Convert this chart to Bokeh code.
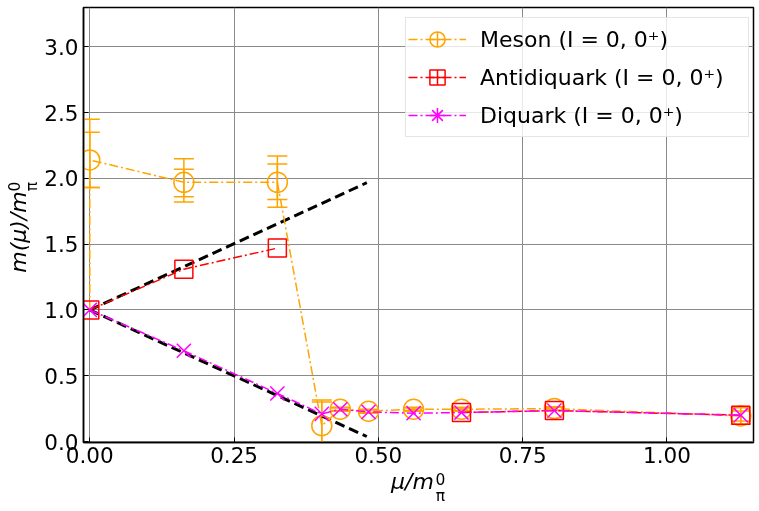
import math
from bokeh.plotting import figure
from bokeh.models import (ColumnDataSource, Whisker, TeeHead, Legend, LegendItem,
                          LinearAxis, FixedTicker, PrintfTickFormatter, Range1d)
from bokeh.embed import file_html
from bokeh.resources import INLINE

nan = float("nan")

# ---- data ----
meson_x = [0.0, 0.0, 0.163, 0.325, 0.402, 0.434, 0.483, 0.561, 0.644, 0.805, 1.128]
meson_y = [1.0, 2.14, 1.97, 1.97, 0.12, 0.245, 0.23, 0.245, 0.245, 0.25, 0.194]
# error bars for points meson_x[1:]
meson_in_lo = [1.93, 1.86, 1.84, -0.06, 0.235, 0.22, 0.235, 0.235, 0.24, 0.156]
meson_in_hi = [2.35, 2.07, 2.11, 0.30, 0.255, 0.24, 0.255, 0.255, 0.26, 0.232]
meson_out_lo = [1.93, 1.82, 1.78, -0.08, 0.23, 0.215, 0.23, 0.23, 0.235, 0.131]
meson_out_hi = [2.45, 2.15, 2.17, 0.315, 0.26, 0.245, 0.26, 0.26, 0.265, 0.257]

anti_x = [0.0, 0.163, 0.325, nan, 0.644, 0.805, 1.128]
anti_y = [1.0, 1.31, 1.47, nan, 0.22, 0.235, 0.20]

di_x = [0.0, 0.163, 0.325, 0.402, 0.434, 0.483, 0.561, 0.644, 0.805, 1.128]
di_y = [1.0, 0.69, 0.365, 0.21, 0.245, 0.225, 0.215, 0.22, 0.235, 0.20]

guide_x = [0.0, 0.48]
guide_up_y = [1.0, 1.967]
guide_down_y = [1.0, 0.038]

x_ticks = [0.0, 0.25, 0.5, 0.75, 1.0]
y_ticks = [0.0, 0.5, 1.0, 1.5, 2.0, 2.5, 3.0]

labels_legend = ["Meson (I = 0, 0\u207a)", "Antidiquark (I = 0, 0\u207a)", "Diquark (I = 0, 0\u207a)"]

ORANGE = "#FFA500"
RED = "#FF0000"
MAGENTA = "#FF00FF"
FONT = "DejaVu Sans"
DD = "9 3 2 3"
FL, FR, FT, FB = 83, 753, 7, 442   # frame edges in page px
X0, X1 = -0.0109, 1.150
Y0, Y1 = -0.0076, 3.299
MBL, MBB, MBR = 140, 120, 6         # generous side panels; canvas pinned so the frame sits at FL/FT

p = figure(width=MBL + (FR - FL) + MBR, height=FT + (FB - FT) + MBB,
           output_backend="svg", toolbar_location=None,
           x_range=Range1d(X0, X1), y_range=Range1d(Y0, Y1),
           min_border_left=MBL, min_border_right=MBR, min_border_top=FT,
           min_border_bottom=MBB)
p.styles = {"position": "fixed", "left": f"{FL - MBL}px", "top": "0px"}
p.background_fill_color = "white"
p.border_fill_color = "white"
p.outline_line_color = "black"
p.outline_line_width = 1.5

for ax in (p.xaxis[0], p.yaxis[0]):
    ax.axis_line_color = "black"
    ax.axis_line_width = 1.5
    ax.major_tick_in = 5
    ax.major_tick_out = 0
    ax.minor_tick_in = 0
    ax.minor_tick_out = 0
    ax.major_tick_line_color = "black"
    ax.major_label_text_font = FONT
    ax.major_label_text_font_size = "21.5px"
    ax.major_label_text_color = "black"
p.xaxis[0].ticker = FixedTicker(ticks=x_ticks)
p.xaxis[0].formatter = PrintfTickFormatter(format="%.2f")
p.xaxis[0].major_label_standoff = 4
p.yaxis[0].ticker = FixedTicker(ticks=y_ticks)
p.yaxis[0].formatter = PrintfTickFormatter(format="%.1f")
p.yaxis[0].major_label_standoff = 5

p.xgrid.grid_line_color = "#8a8a8a"
p.ygrid.grid_line_color = "#8a8a8a"

# guide lines
p.line(guide_x, guide_up_y, line_color="black", line_width=3, line_dash="10 5")
p.line(guide_x, guide_down_y, line_color="black", line_width=3, line_dash="10 5")

# meson
m_line = p.line(meson_x, meson_y, line_color=ORANGE, line_width=1.5, line_dash=DD)
msrc = ColumnDataSource(dict(x=meson_x[1:], y=meson_y[1:],
                             ilo=meson_in_lo, ihi=meson_in_hi,
                             olo=meson_out_lo, ohi=meson_out_hi))
for lo, hi in (("ilo", "ihi"), ("olo", "ohi")):
    p.add_layout(Whisker(source=msrc, base="x", lower=lo, upper=hi, dimension="height",
                         line_color=ORANGE, line_width=1.5,
                         upper_head=TeeHead(size=20, line_color=ORANGE, line_width=1.5),
                         lower_head=TeeHead(size=20, line_color=ORANGE, line_width=1.5)))
p.scatter("x", "y", source=msrc, marker="circle", size=20, fill_alpha=0,
          line_color=ORANGE, line_width=1.5)

# antidiquark
a_line = p.line(anti_x, anti_y, line_color=RED, line_width=1.5, line_dash=DD)
p.scatter(anti_x, anti_y, marker="square", size=18, fill_alpha=0,
          line_color=RED, line_width=1.5)

# diquark
d_line = p.line(di_x, di_y, line_color=MAGENTA, line_width=1.5, line_dash=DD)
p.scatter(di_x, di_y, marker="x", size=20, line_color=MAGENTA, line_width=1.5)

# legend-only marker glyphs
def leg_marker(marker, color):
    return p.scatter([nan], [nan], marker=marker, size=18, fill_alpha=0,
                     line_color=color, line_width=1.5)

m_leg = leg_marker("circle_cross", ORANGE)
a_leg = leg_marker("square_cross", RED)
d_leg = leg_marker("asterisk", MAGENTA)

# legend box: left edge at page x 405, bottom edge at page y 137
legend = Legend(items=[
    LegendItem(label=labels_legend[0], renderers=[m_line, m_leg]),
    LegendItem(label=labels_legend[1], renderers=[a_line, a_leg]),
    LegendItem(label=labels_legend[2], renderers=[d_line, d_leg]),
], location=(405 - FL, FB - 137))
legend.label_text_font = FONT
legend.label_text_font_size = "22px"
legend.label_text_color = "black"
legend.glyph_width = 58
legend.glyph_height = 38
legend.label_standoff = 14
legend.label_width = 266
legend.spacing = 0
legend.padding = 2
legend.margin = 0
legend.border_line_color = "#cccccc"
legend.border_line_width = 1
legend.background_fill_color = "white"
legend.background_fill_alpha = 0.8
p.add_layout(legend)

# ---- axis titles built from text-only axes (mathtext-like layout) ----
def xd(px):
    return X0 + (px - FL) / (FR - FL) * (X1 - X0)

def yd(py):
    return Y0 + (FB - py) / (FB - FT) * (Y1 - Y0)

def text_axis(side, pos, text, size, standoff, orient="horizontal", lh=1.2, style="italic"):
    ax = LinearAxis(ticker=FixedTicker(ticks=[pos]),
                    major_label_overrides={pos: text},
                    axis_line_color=None, major_tick_line_color=None,
                    minor_tick_line_color=None,
                    major_label_text_font=FONT, major_label_text_font_size=size,
                    major_label_text_font_style=style, major_label_text_color="black",
                    major_label_text_line_height=lh,
                    major_label_standoff=standoff, major_label_orientation=orient)
    p.add_layout(ax, side)
    return ax

# x title: mu/m_pi^0  (superscript over subscript as a two-line label)
text_axis("below", xd(412), "\u03bc/m", "22px", -3)
text_axis("below", xd(440), "0\n\u03c0", "15.5px", -32, lh=0.9, style="normal")

# y title: m(mu)/m_pi^0
text_axis("left", yd(231.5), "m(\u03bc)/m", "22px", 5, orient="parallel")
text_axis("left", yd(186), "0\n\u03c0", "15.5px", -44, orient="parallel", lh=0.9, style="normal")

open("out.html", "w").write(file_html(p, INLINE))
